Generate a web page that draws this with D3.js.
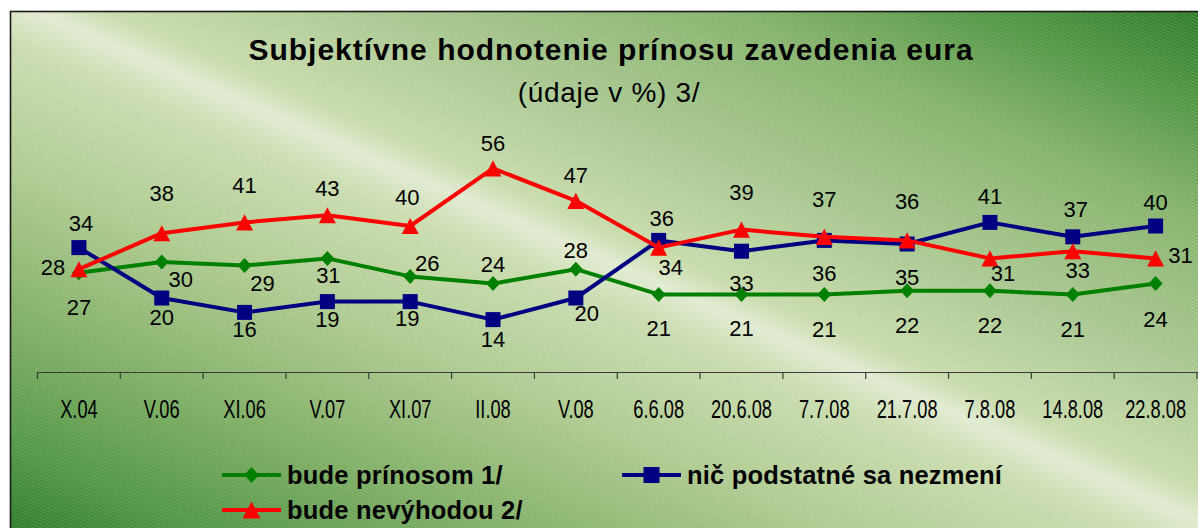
<!DOCTYPE html>
<html><head><meta charset="utf-8">
<script src="https://cdn.jsdelivr.net/npm/d3@7"></script>
<style>body{margin:0;background:#fff}svg{display:block}</style>
</head><body>
<svg id="c" width="1198" height="528"></svg>
<script>
const categories = ["X.04","V.06","XI.06","V.07","XI.07","II.08","V.08","6.6.08","20.6.08","7.7.08","21.7.08","7.8.08","14.8.08","22.8.08"];
const prinosom  = [27,30,29,31,26,24,28,21,21,21,22,22,21,24];
const nevyhodou = [28,38,41,43,40,56,47,34,39,37,36,31,33,31];
const nezmeni   = [34,20,16,19,19,14,20,36,33,36,35,41,37,40];
const seriesNames = ["bude prínosom 1/","bude nevýhodou 2/","nič podstatné sa nezmení"];
const titleText = "Subjektívne hodnotenie prínosu zavedenia eura";
const subtitleText = "(údaje v %) 3/";

// layout: data-label offsets relative to each marker
const offGreen = [[0,34],[19,17],[18,17],[1,17],[17,-13],[0,-20],[0,-19],[0,34],[0,34],[0,35],[0,34],[0,34],[0,35],[0,35]];
const offRed   = [[-26,-2],[0,-40],[0,-37],[0,-27],[-3,-29],[0,-25],[0,-26],[12,19],[0,-38],[0,-38],[0,-39],[13,15],[5,19],[25,-3]];
const offBlue  = [[2,-25],[0,19],[0,17],[0,17],[-3,16],[0,19],[11,15],[3,-22],[0,32],[0,33],[0,33],[0,-26],[3,-28],[0,-24]];

const FONT = "'Liberation Sans', Arial, sans-serif";
const svg = d3.select("#c");
const defs = svg.append("defs");

// background gradient
const grad = defs.append("linearGradient").attr("id","bg")
  .attr("gradientUnits","userSpaceOnUse")
  .attr("x1",227).attr("y1",-412).attr("x2",-153).attr("y2",457);
[[0,"#2f7d2a"],[0.08,"#4d9440"],[0.2,"#86b36c"],[0.35,"#aac891"],[0.46,"#c8dbab"],
 [0.49,"#e1ebd1"],[0.53,"#cadcaf"],[0.65,"#afcb91"],[0.8,"#7eae64"],[0.92,"#519645"],[1,"#2f7e2b"]]
 .forEach(([o,c]) => grad.append("stop").attr("offset",o).attr("stop-color",c));

const pat = defs.append("pattern").attr("id","tex").attr("patternUnits","userSpaceOnUse")
  .attr("width",6).attr("height",3).attr("patternTransform","rotate(24)");
pat.append("rect").attr("width",6).attr("height",1).attr("fill","#ffffff").attr("opacity",0.12);

svg.append("rect").attr("x",10.5).attr("y",11.5).attr("width",1200).attr("height",530)
  .attr("fill","url(#bg)");
svg.append("rect").attr("x",10.5).attr("y",11.5).attr("width",1200).attr("height",530)
  .attr("fill","url(#tex)").attr("stroke","#1a1a1a").attr("stroke-width",1.6);

// title
svg.append("text").attr("x",611).attr("y",60).attr("text-anchor","middle")
  .attr("font-family",FONT).attr("font-size",30).attr("font-weight","bold")
  .attr("letter-spacing",1).attr("fill","#000").text(titleText);
svg.append("text").attr("x",609).attr("y",102).attr("text-anchor","middle")
  .attr("font-family",FONT).attr("font-size",28).attr("letter-spacing",0.7)
  .attr("fill","#000").text(subtitleText);

// scales
const x = d3.scaleBand().domain(categories).range([37.5,1197]).padding(0);
const y = d3.scaleLinear().domain([0,50]).range([370,190]);
const cx = c => x(c) + x.bandwidth()/2;

// axis
const axisY = 372;
const ax = svg.append("g");
ax.append("line").attr("x1",x.range()[0]).attr("x2",x.range()[1]+2)
  .attr("y1",axisY+0.5).attr("y2",axisY+0.5).attr("stroke","#3a3a3a").attr("stroke-width",1.2);
ax.selectAll("line.tk").data(categories.concat(["__end"])).join("line").attr("class","tk")
  .attr("x1",d => d==="__end" ? x.range()[1] : x(d)).attr("x2",d => d==="__end" ? x.range()[1] : x(d))
  .attr("y1",axisY).attr("y2",axisY+7).attr("stroke","#3a3a3a").attr("stroke-width",1.2);
ax.selectAll("text.tl").data(categories).join("text").attr("class","tl")
  .attr("transform",d => `translate(${cx(d)},418) scale(0.73,1)`)
  .attr("text-anchor","middle").attr("font-family",FONT).attr("font-size",25)
  .attr("fill","#000").text(d => d);

// symbols
const diamond = {draw(ctx,s){ const r=s; ctx.moveTo(0,-r); ctx.lineTo(r*0.93,0); ctx.lineTo(0,r); ctx.lineTo(-r*0.93,0); ctx.closePath(); }};
const tri = {draw(ctx,s){ const w=s, h=s*0.95; ctx.moveTo(0,-h/2); ctx.lineTo(w/2,h/2); ctx.lineTo(-w/2,h/2); ctx.closePath(); }};
const square = {draw(ctx,s){ ctx.rect(-s/2,-s/2,s,s); }};

const series = [
  {vals:prinosom, color:"#008000", sym:diamond, size:7.5, off:offGreen},
  {vals:nezmeni, color:"#000080", sym:square, size:15, off:offBlue},
  {vals:nevyhodou, color:"#ff0000", sym:tri, size:17, off:offRed}
];
const line = d3.line().x((d,i) => cx(categories[i])).y(d => y(d));
series.forEach(s => {
  const g = svg.append("g");
  g.append("path").datum(s.vals).attr("d",line).attr("fill","none")
    .attr("stroke",s.color).attr("stroke-width",4).attr("stroke-linejoin","round");
  g.selectAll("path.m").data(s.vals).join("path").attr("class","m")
    .attr("transform",(d,i) => `translate(${cx(categories[i])},${y(d)})`)
    .attr("d",d3.symbol().type(s.sym).size(s.size)).attr("fill",s.color);
});
// data labels
const labG = svg.append("g");
series.forEach(s => {
  labG.selectAll(null).data(s.vals).join("text")
    .attr("x",(d,i) => cx(categories[i]) + s.off[i][0])
    .attr("y",(d,i) => y(d) + s.off[i][1] + 8)
    .attr("text-anchor","middle").attr("font-family",FONT).attr("font-size",22)
    .attr("fill","#000").text(d => d);
});

// legend
const legend = [
  {name:seriesNames[0], color:"#008000", sym:diamond, size:8, x:222, y:475},
  {name:seriesNames[2], color:"#000080", sym:square, size:16, x:622, y:475},
  {name:seriesNames[1], color:"#ff0000", sym:tri, size:18, x:222, y:510}
];
const lg = svg.append("g");
legend.forEach(l => {
  lg.append("line").attr("x1",l.x).attr("x2",l.x+59).attr("y1",l.y).attr("y2",l.y)
    .attr("stroke",l.color).attr("stroke-width",4);
  lg.append("path").attr("transform",`translate(${l.x+29.5},${l.y})`)
    .attr("d",d3.symbol().type(l.sym).size(l.size)).attr("fill",l.color);
  lg.append("text").attr("x",l.x+65).attr("y",l.y+8.5).attr("font-family",FONT)
    .attr("font-size",25.5).attr("font-weight","bold").attr("letter-spacing",0.2)
    .attr("fill","#000").text(l.name);
});
</script>
</body></html>
